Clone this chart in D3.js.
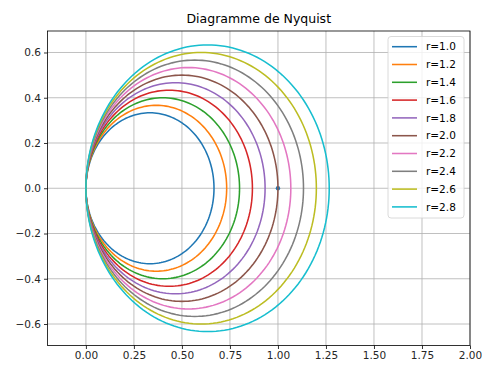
<!DOCTYPE html>
<html>
<head>
<meta charset="utf-8">
<script src="https://cdn.jsdelivr.net/npm/d3@7"></script>
<style>
  body { margin: 0; background: #fff; }
  svg { display: block; font-family: "DejaVu Sans", sans-serif; }
</style>
</head>
<body>
<svg id="chart" width="482" height="367"></svg>
<script>
// Data
const rLabels = ["r=1.0","r=1.2","r=1.4","r=1.6","r=1.8","r=2.0","r=2.2","r=2.4","r=2.6","r=2.8"];
// Real-axis crossing (diameter of each circular Nyquist locus)
const maxReal = [0.667, 0.733, 0.800, 0.867, 0.933, 1.000, 1.067, 1.133, 1.200, 1.267];
const colors = ["#1f77b4","#ff7f0e","#2ca02c","#d62728","#9467bd","#8c564b","#e377c2","#7f7f7f","#bcbd22","#17becf"];
const xTicks = [0.00, 0.25, 0.50, 0.75, 1.00, 1.25, 1.50, 1.75, 2.00];
const yTicks = [-0.6, -0.4, -0.2, 0.0, 0.2, 0.4, 0.6];
const markerPoint = [1.0, 0.0];

const svg = d3.select("#chart");
const L = 47.5, R = 470, T = 31, B = 345.5;
const x = d3.scaleLinear().domain([-0.2, 2.0]).range([L, R]);
const y = d3.scaleLinear().domain([-0.695, 0.695]).range([B, T]);

// grid
const g = svg.append("g");
g.selectAll(".gx").data(xTicks).enter().append("line")
  .attr("x1", d => x(d)).attr("x2", d => x(d)).attr("y1", T).attr("y2", B)
  .attr("stroke", "#b0b0b0").attr("stroke-width", 0.8);
g.selectAll(".gy").data(yTicks).enter().append("line")
  .attr("y1", d => y(d)).attr("y2", d => y(d)).attr("x1", L).attr("x2", R)
  .attr("stroke", "#b0b0b0").attr("stroke-width", 0.8);

// marker
svg.append("circle").attr("cx", x(markerPoint[0])).attr("cy", y(markerPoint[1]))
  .attr("r", 2.2).attr("fill", "#1f77b4");

// curves
const clip = svg.append("clipPath").attr("id", "clip").append("rect")
  .attr("x", L).attr("y", T).attr("width", R - L).attr("height", B - T);
const line = d3.line().x(d => x(d[0])).y(d => y(d[1]));
const angles = d3.range(0, 361, 2).map(a => a * Math.PI / 180);
maxReal.forEach((d, i) => {
  const rad = d / 2;
  const pts = angles.map(t => [rad - rad * Math.cos(t), -rad * Math.sin(t)]);
  svg.append("path").attr("d", line(pts)).attr("fill", "none")
    .attr("stroke", colors[i]).attr("stroke-width", 1.55)
    .attr("clip-path", "url(#clip)");
});

// axes
const xAxis = d3.axisBottom(x).tickValues(xTicks).tickFormat(d3.format(".2f")).tickSize(3.5).tickPadding(3);
const yAxis = d3.axisLeft(y).tickValues(yTicks).tickFormat(d => d3.format(".1f")(d).replace("-", "\u2212")).tickSize(3.5).tickPadding(3);
const gx = svg.append("g").attr("transform", `translate(0,${B})`).call(xAxis);
const gy = svg.append("g").attr("transform", `translate(${L},0)`).call(yAxis);
[gx, gy].forEach(a => {
  a.select(".domain").remove();
  a.selectAll("line").attr("stroke", "#000").attr("stroke-width", 0.8);
  a.selectAll("text").attr("fill", "#262626").style("font-size", "10.5px").style("font-family", "DejaVu Sans");
});
svg.append("rect").attr("x", L).attr("y", T).attr("width", R - L).attr("height", B - T)
  .attr("fill", "none").attr("stroke", "#000").attr("stroke-width", 0.8);

// title
svg.append("text").attr("x", (L + R) / 2).attr("y", 22.5).attr("text-anchor", "middle")
  .style("font-size", "12.5px").attr("fill", "#000").text("Diagramme de Nyquist");

// legend
const lg = svg.append("g");
lg.append("rect").attr("x", 388).attr("y", 36.5).attr("width", 76).attr("height", 181.5)
  .attr("rx", 3).attr("fill", "#fff").attr("fill-opacity", 0.8)
  .attr("stroke", "#d0d0d0").attr("stroke-width", 0.8);
rLabels.forEach((lab, i) => {
  const cy = 46.7 + i * 17.8;
  lg.append("line").attr("x1", 392).attr("x2", 417).attr("y1", cy).attr("y2", cy)
    .attr("stroke", colors[i]).attr("stroke-width", 1.55);
  lg.append("text").attr("x", 426).attr("y", cy).attr("dy", "0.36em")
    .style("font-size", "10.5px").attr("fill", "#000").text(lab);
});
</script>
</body>
</html>
